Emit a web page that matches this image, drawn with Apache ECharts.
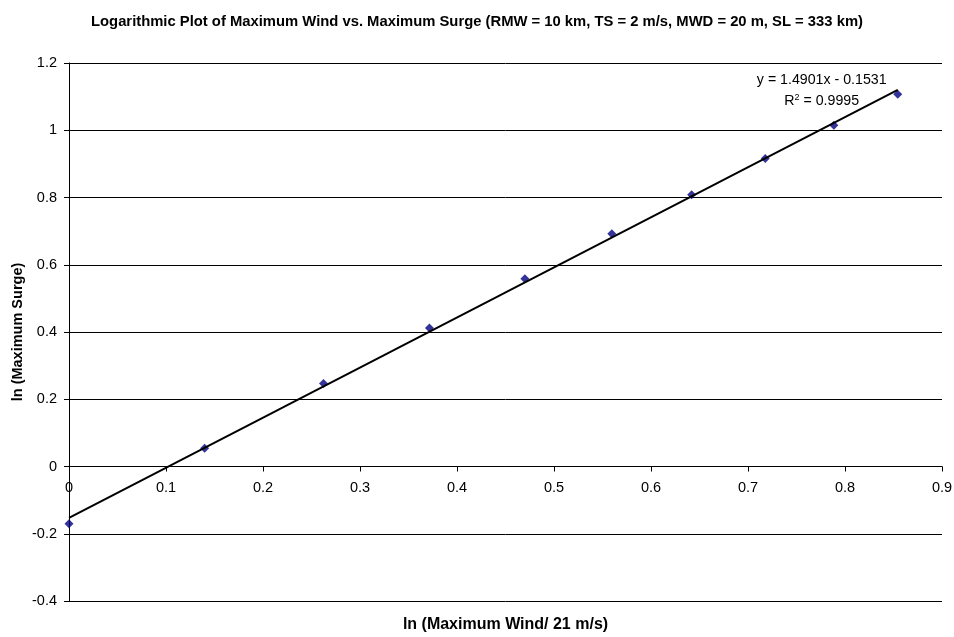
<!DOCTYPE html>
<html>
<head>
<meta charset="utf-8">
<script src="https://cdn.jsdelivr.net/npm/echarts@6/dist/echarts.min.js"></script>
<style>
  html, body { margin: 0; padding: 0; background: #fff; }
  #chart { width: 954px; height: 637px; }
</style>
</head>
<body>
<div id="chart"></div>
<script>
// ln(max wind / 21 m/s) and ln(max surge) for each run
const lnWind  = [0, 0.1398, 0.2624, 0.3716, 0.4700, 0.5596, 0.6419, 0.7178, 0.7885, 0.8544];
const lnSurge = [-0.170, 0.054, 0.247, 0.412, 0.558, 0.692, 0.808, 0.916, 1.015, 1.107];

// Linear trendline coefficients as printed on the chart
const slope = 1.4901;
const intercept = -0.1531;
const rSquared = '0.9995';

const xTicks = { min: 0, max: 0.9, interval: 0.1 };
const yTicks = { min: -0.4, max: 1.2, interval: 0.2 };

const chartTitle = 'Logarithmic Plot of Maximum Wind vs. Maximum Surge (RMW = 10 km, TS = 2 m/s, MWD = 20 m, SL = 333 km)';
const xName = 'ln (Maximum Wind/ 21 m/s)';
const yName = 'ln (Maximum Surge)';

const FONT = '"Liberation Sans", Arial, Helvetica, sans-serif';

const points = lnWind.map((x, i) => [x, lnSurge[i]]);
const xFirst = Math.min(...lnWind);
const xLast = Math.max(...lnWind);
const trend = [xFirst, xLast].map(x => [x, slope * x + intercept]);

const GRID = { left: 69, right: 12, top: 63, bottom: 36 };

const chart = echarts.init(document.getElementById('chart'), null, { renderer: 'canvas' });

chart.setOption({
  backgroundColor: '#fff',
  animation: false,
  title: {
    text: chartTitle,
    left: 'center',
    top: 9,
    textStyle: { fontFamily: FONT, fontSize: 14.8, fontWeight: 'bold', color: '#000' }
  },
  grid: Object.assign({ containLabel: false, outerBoundsMode: 'none' }, GRID),
  xAxis: {
    type: 'value',
    position: 'bottom',
    min: xTicks.min, max: xTicks.max, interval: xTicks.interval,
    axisLine: { show: true, onZero: false, lineStyle: { color: '#000', width: 1 } },
    axisTick: { show: true, length: 5, lineStyle: { color: '#000' } },
    axisLabel: { margin: 14, fontFamily: FONT, fontSize: 14.5, color: '#000' },
    splitLine: { show: false }
  },
  yAxis: {
    type: 'value',
    min: yTicks.min, max: yTicks.max, interval: yTicks.interval,
    axisLine: { show: true, onZero: false, lineStyle: { color: '#000', width: 1 } },
    axisTick: { show: true, length: 5, lineStyle: { color: '#000' } },
    axisLabel: { margin: 12, fontFamily: FONT, fontSize: 14.5, color: '#000' },
    splitLine: { show: true, lineStyle: { color: '#000', width: 1 } }
  },
  series: [
    {
      name: 'Runs',
      type: 'scatter',
      data: points,
      symbol: 'diamond',
      symbolSize: 9,
      itemStyle: { color: '#000080' },
      z: 2
    },
    {
      name: 'Linear trend',
      type: 'line',
      data: trend,
      showSymbol: false,
      lineStyle: { color: '#000', width: 2 },
      z: 3
    }
  ]
});

// Move the x axis up so it crosses the y axis at zero
const zeroY = chart.convertToPixel({ yAxisIndex: 0 }, 0);
const bottomY = chart.convertToPixel({ yAxisIndex: 0 }, yTicks.min);
const topY = chart.convertToPixel({ yAxisIndex: 0 }, yTicks.max);
const leftX = chart.convertToPixel({ xAxisIndex: 0 }, xTicks.min);
const rightX = chart.convertToPixel({ xAxisIndex: 0 }, xTicks.max);
const eqX = chart.convertToPixel({ xAxisIndex: 0 }, 0.776);

chart.setOption({
  xAxis: { offset: -(bottomY - zeroY) },
  graphic: [
    {
      type: 'text',
      x: (leftX + rightX) / 2,
      y: bottomY + 24,
      style: {
        text: xName, font: 'bold 16px ' + FONT, fill: '#000',
        align: 'center', verticalAlign: 'middle'
      }
    },
    {
      type: 'text',
      x: leftX - 51,
      y: (topY + bottomY) / 2,
      rotation: Math.PI / 2,
      style: {
        text: yName, font: 'bold 14.5px ' + FONT, fill: '#000',
        align: 'center', verticalAlign: 'middle'
      }
    },
    {
      type: 'text',
      x: eqX,
      y: topY + 10,
      style: {
        text: 'y = ' + slope.toFixed(4) + 'x - ' + Math.abs(intercept).toFixed(4),
        font: '14.2px ' + FONT, fill: '#000', align: 'center', verticalAlign: 'top'
      }
    },
    {
      type: 'text',
      x: eqX,
      y: topY + 30,
      style: {
        text: 'R{sup|2} = ' + rSquared,
        font: '14.2px ' + FONT, fill: '#000', align: 'center', verticalAlign: 'top',
        rich: { sup: { fontSize: 9, verticalAlign: 'top', padding: [0, 0, 7, 0], fontFamily: FONT } }
      }
    }
  ]
});
</script>
</body>
</html>
